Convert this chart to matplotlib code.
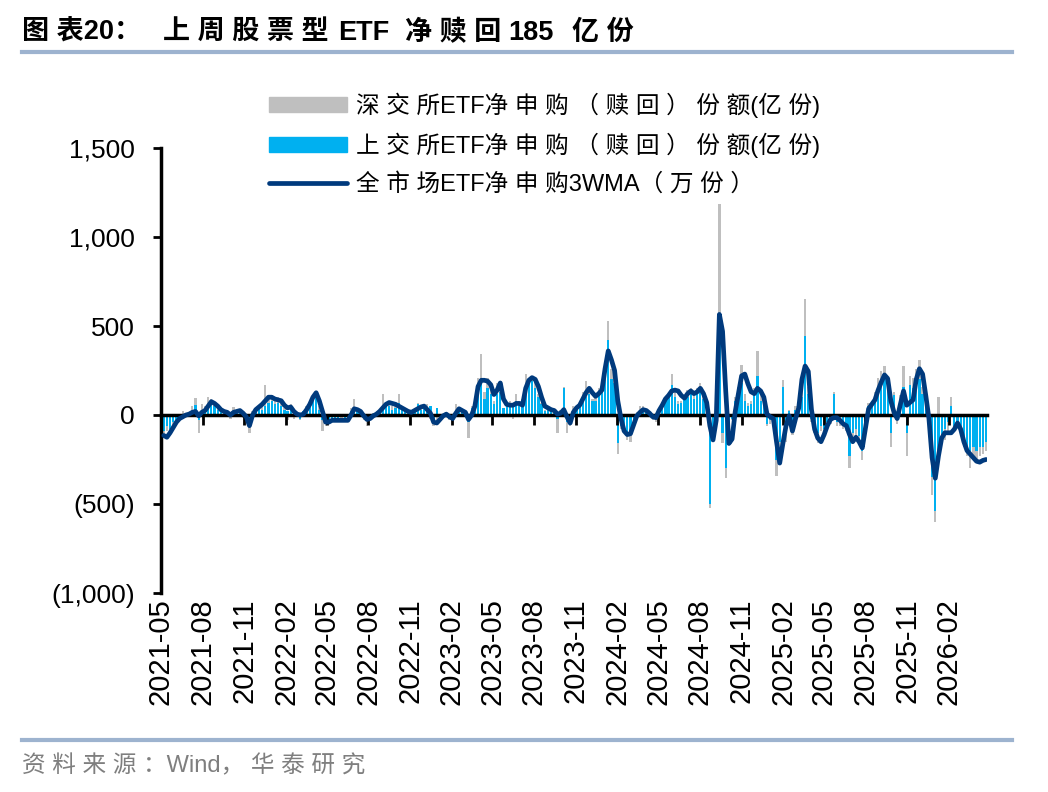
import matplotlib
matplotlib.use("Agg")
import matplotlib.pyplot as plt
import matplotlib.dates as mdates
import matplotlib.lines as mlines
import matplotlib.patches as mpatches
import matplotlib.ticker as mticker
import numpy as np
import pandas as pd

plt.rcParams['font.family'] = ['Liberation Sans', 'Noto Sans CJK SC']

SZ_COLOR = '#BFBFBF'
SH_COLOR = '#00B0F0'
LINE_COLOR = '#003A7D'
RULE_COLOR = '#9DB3CF'

# weekly data, 2021-05-07 .. 2026-04-24 (亿份)
weeks = pd.date_range('2021-05-07', periods=260, freq='7D')

sh_flow = [
    -90, -60, -80, -40, -30, -10, -20, 10, -5, 20, 55, -30, 30,
    20, 40, 70, 50, 30, 20, 15, 10, -10, 25, 10, 20, 5,
    -10, -50, 10, 20, 40, 30, 50, 70, 80, 60, 70, 50, 30,
    20, 40, -10, 10, -20, 20, 30, 50, 80, 100, 30, -30, -40,
    -30, -20, -20, -30, -10, -20, -20, 20, 40, 20, 10, -10, -30,
    -10, -10, 10, 20, 40, 50, 50, 30, 40, 70, 30, 20, 10,
    10, 20, 60, 30, 40, 20, 50, -40, 40, -30, -10, 10, -20,
    -10, 30, 20, 20, 10, -40, 40, 60, 130, 180, 90, 150, 120,
    60, 120, 130, 40, 60, 60, 50, 80, 60, 60, 150, 180, 190,
    150, 100, 60, 20, 30, 30, 20, -20, 20, 150, -40, -40, 30,
    30, 50, 100, 100, 120, 80, 80, 120, 130, 250, 420, 200, 180,
    -160, -60, -80, -100, -100, -20, 10, 20, 40, 20, -10, -10, -20,
    20, 50, 80, 100, 170, 100, 60, 70, 90, 100, 120, 90, 120,
    150, 90, 30, -500, -80, 140, 560, -100, -300, -50, -20, 80, 130,
    180, 80, 50, 60, 120, 220, 80, 60, -50, -30, -40, -250, -150,
    160, -100, 20, -80, 30, 40, 100, 445, 120, -20, -60, -100, -60,
    -80, -40, -30, 120, -40, -40, -60, -70, -230, -100, -80, -120, -200,
    -60, 50, 60, 100, 150, 200, 220, 160, -100, 110, -30, 80, 160,
    -100, 170, 150, 180, 200, 120, 60, -60, -350, -540, -200, -120, -80,
    -40, 50, -60, -40, -80, -140, -180, -200, -180, -200, -180, -180, -150,
]

sz_flow = [
    -40, -30, -20, -20, -10, -10, 20, -10, 15, 30, 40, -70, 30,
    30, 60, 20, 10, 20, 10, 10, -10, -15, 20, 15, 10, -15,
    -5, -50, 10, 20, 15, 30, 120, 20, 30, 20, 30, 20, 10,
    -30, 20, -10, 5, -10, 5, 20, 25, 30, 25, 20, -60, -20,
    -20, -10, -10, -10, -5, -10, -10, 20, 50, -10, 20, -20, -30,
    -10, 10, -10, 10, 80, 20, 10, 20, 20, 50, 10, 10, 10,
    10, 10, 10, 20, 10, 40, -20, -20, -30, -10, 5, 5, -10,
    -20, 30, 10, 10, -10, -90, 10, 20, 80, 160, 40, 60, 50,
    20, 60, 40, -10, 10, 20, -20, 40, 20, 30, 80, 30, 30,
    40, 20, 10, 10, 10, 10, 0, -80, 10, 10, -60, -20, 20,
    20, 20, 30, 90, 20, 10, 30, 30, 40, 40, 110, 60, 30,
    -60, -20, -20, -40, -50, -10, 5, 30, 10, 10, 10, -20, -20,
    20, 20, 20, 20, 60, 30, 20, 10, 20, 40, 30, 20, 30,
    30, 20, 10, -20, -40, 30, 625, -60, -55, -30, -10, 20, 30,
    100, 40, 20, 20, 30, 140, 30, 20, -10, -20, -10, -90, -40,
    35, -50, 10, -30, 20, 20, 50, 205, 40, -20, -40, -60, -30,
    -40, -20, -20, 10, -20, -20, -20, -20, -70, -20, -30, -40, -50,
    -20, 20, 20, 30, 60, 45, 55, 40, -80, 20, -20, 30, 115,
    -130, 50, 60, 80, 110, 40, 20, -30, -100, -60, 100, -40, -60,
    -60, 50, -20, -10, -30, -40, -50, -100, -60, -60, -50, -40, -50,
]

wma_3w = [
    -115, -125, -100, -70, -40, -20, -10, 0, 5, 15, 20, -5, 15,
    25, 50, 75, 65, 50, 30, 20, 15, 0, 15, 20, 25, 10,
    -10, -60, 0, 30, 45, 60, 80, 100, 100, 90, 85, 80, 55,
    40, 45, 20, 5, 0, 5, 30, 60, 100, 125, 80, 20, -40,
    -40, -30, -30, -30, -30, -30, -30, 0, 35, 30, 20, -5, -25,
    -20, -5, 5, 20, 40, 60, 70, 65, 60, 50, 40, 30, 20,
    15, 25, 35, 45, 50, 30, 10, -40, -45, -25, -5, 5, -10,
    -20, 10, 35, 25, 15, -25, 0, 50, 160, 195, 195, 190, 170,
    115, 140, 180, 90, 60, 55, 55, 65, 65, 55, 150, 195, 210,
    200, 160, 100, 50, 40, 30, 25, 5, 10, 30, -10, -45, 15,
    40, 55, 90, 125, 150, 125, 105, 120, 140, 260, 360, 310, 250,
    80, -20, -90, -110, -105, -55, -5, 15, 30, 25, 10, -10, -15,
    25, 55, 90, 110, 135, 140, 135, 110, 95, 120, 135, 120, 130,
    150, 120, 70, -60, -140, -30, 565, 470, 135, -160, -135, 20, 120,
    220, 230, 175, 130, 120, 150, 135, 100, 5, -10, -20, -150, -270,
    -160, -60, -5, -90, -20, 40, 200, 275, 245, 30, -80, -130, -150,
    -110, -60, -25, -15, -15, -30, -50, -60, -110, -150, -125, -150, -185,
    -75, 35, 60, 85, 140, 185, 225, 205, 80, 15, -20, 60, 135,
    55, 70, 85, 200, 260, 230, 110, -20, -240, -355, -230, -130, -100,
    -100, -100, -80, -45, -80, -150, -200, -220, -240, -260, -265, -255, -250,
]

y_ticks = [-1000, -500, 0, 500, 1000, 1500]
x_ticks = pd.date_range('2021-05-01', '2026-02-01', freq='3MS')

legend_labels = [
    '深交所ETF净申购（赎回）份额(亿份)',
    '上交所ETF净申购（赎回）份额(亿份)',
    '全市场ETF净申购3WMA（万份）',
]


def spaced(s):
    # the source sets its Chinese text with wide letter spacing
    out = s[0]
    for a, b in zip(s, s[1:]):
        if ord(a) > 0x2E80 and ord(b) > 0x2E80:
            out += ' '
        out += b
    return out


sh = np.array(sh_flow, dtype=float)
sz = np.array(sz_flow, dtype=float)
sz_bottom = np.where(np.sign(sz) == np.sign(sh), sh, 0.0)

fig = plt.figure(figsize=(10.48, 7.92), dpi=100, facecolor='white')
ax = fig.add_axes([161 / 1048, 1 - 593 / 792, (987 - 161) / 1048, (593 - 148) / 792])

ax.bar(weeks, sh, width=5, color=SH_COLOR, zorder=1)
ax.bar(weeks, sz, bottom=sz_bottom, width=5, color=SZ_COLOR, zorder=1)
ax.plot(weeks, wma_3w, color=LINE_COLOR, lw=3.4, solid_joinstyle='round',
        solid_capstyle='round', zorder=3)

ax.set_xlim(pd.Timestamp('2021-05-01'), pd.Timestamp('2026-04-26'))
ax.set_ylim(-1000, 1500)
ax.set_yticks(y_ticks)
ax.yaxis.set_major_formatter(mticker.FuncFormatter(
    lambda v, p: f'({abs(v):,.0f})' if v < 0 else f'{v:,.0f}'))

for s in ['top', 'right']:
    ax.spines[s].set_visible(False)
ax.spines['left'].set_linewidth(2.5)
ax.spines['bottom'].set_position(('data', 0))
ax.spines['bottom'].set_linewidth(2.5)
ax.spines['bottom'].set_zorder(2.5)

ax.set_xticks(x_ticks)
ax.tick_params(axis='x', which='both', labelbottom=False, direction='out',
               length=7, width=2)
ax.tick_params(axis='y', direction='out', length=6, width=2, labelsize=19, pad=13)

sec = ax.secondary_xaxis('bottom')
sec.set_xticks(x_ticks)
sec.xaxis.set_major_formatter(mdates.DateFormatter('%Y-%m'))
sec.tick_params(axis='x', length=0, labelsize=21, labelrotation=90, pad=4)
sec.spines['bottom'].set_visible(False)

# legend
handles = [
    mpatches.Patch(color=SZ_COLOR),
    mpatches.Patch(color=SH_COLOR),
    mlines.Line2D([], [], color=LINE_COLOR, lw=3.4, solid_capstyle='round'),
]
fig.legend(handles, [spaced(t) for t in legend_labels], loc='upper left',
           bbox_to_anchor=(257 / 1048, 1 - 81 / 792), frameon=False,
           fontsize=17, handlelength=3.3, handleheight=0.6,
           handletextpad=0.4, labelspacing=0.62, borderpad=0)

# title and rules
title_parts = [
    (22, '图表20：'), (163, '上周股票型'), (338, 'ETF'),
    (405, '净赎回'), (508, '185'), (572, '亿份'),
]
for x, txt in title_parts:
    fig.text(x / 1048, 1 - 33 / 792, spaced(txt), fontsize=19.5,
             fontweight='bold', va='center', ha='left')

fig.add_artist(mlines.Line2D([22 / 1048, 1012 / 1048], [1 - 52 / 792] * 2,
                             color=RULE_COLOR, lw=3))
fig.add_artist(mlines.Line2D([22 / 1048, 1012 / 1048], [1 - 740 / 792] * 2,
                             color=RULE_COLOR, lw=3))
fig.text(22 / 1048, 1 - 766 / 792, spaced('资料来源：Wind，华泰研究'), fontsize=17,
         color='#7F7F7F', va='center', ha='left')

fig.savefig('out.png', dpi=100, facecolor='white')
